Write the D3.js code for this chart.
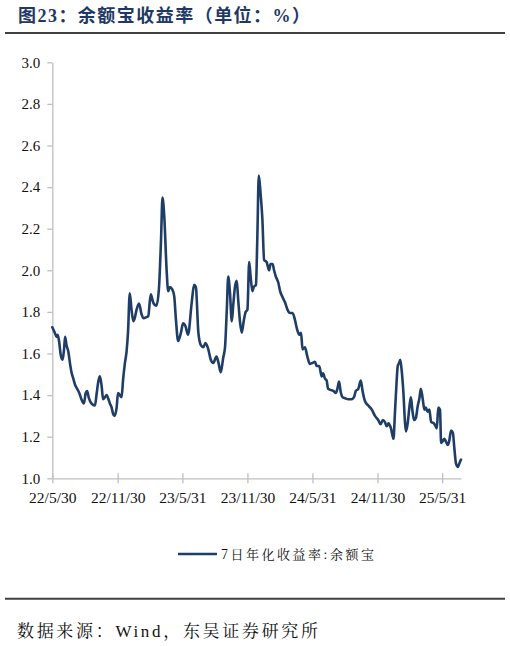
<!DOCTYPE html>
<html>
<head>
<meta charset="utf-8">
<script src="https://cdn.jsdelivr.net/npm/d3@7"></script>
<style>
  html, body { margin: 0; padding: 0; background: #ffffff; }
  svg { display: block; }
</style>
</head>
<body>
<svg id="chart" width="510" height="646"></svg>
<script>
// ---------------- DATA ----------------
const titleText = "图23：余额宝收益率（单位：%）";
const sourceText = "数据来源：Wind，东吴证券研究所";
const seriesName = "7日年化收益率:余额宝";

const yTicks = [1.0, 1.2, 1.4, 1.6, 1.8, 2.0, 2.2, 2.4, 2.6, 2.8, 3.0];
const xTickDates = ["2022-05-30", "2022-11-30", "2023-05-31", "2023-11-30", "2024-05-31", "2024-11-30", "2025-05-31"];
const xTickLabels = ["22/5/30", "22/11/30", "23/5/31", "23/11/30", "24/5/31", "24/11/30", "25/5/31"];
const xDomain = ["2022-05-30", "2025-07-23"];

const dates = [
"2022-05-30","2022-06-06","2022-06-11","2022-06-14","2022-06-18","2022-06-23","2022-06-28","2022-07-02","2022-07-05","2022-07-09",
"2022-07-14","2022-07-19","2022-07-23","2022-07-28","2022-08-02","2022-08-08","2022-08-14","2022-08-20","2022-08-27","2022-09-01",
"2022-09-05","2022-09-10","2022-09-17","2022-09-27","2022-10-02","2022-10-07","2022-10-11","2022-10-16","2022-10-20","2022-10-25",
"2022-10-30","2022-11-03","2022-11-08","2022-11-13","2022-11-17","2022-11-21","2022-11-27","2022-12-01","2022-12-06","2022-12-11",
"2022-12-15","2022-12-20","2022-12-25","2022-12-29","2023-01-03","2023-01-08","2023-01-13","2023-01-17","2023-01-22","2023-01-29",
"2023-02-05","2023-02-10","2023-02-19","2023-02-24","2023-03-03","2023-03-10","2023-03-19","2023-03-26","2023-04-01","2023-04-05",
"2023-04-10","2023-04-17","2023-04-21","2023-04-26","2023-05-02","2023-05-08","2023-05-13","2023-05-19","2023-05-27","2023-06-02",
"2023-06-09","2023-06-16","2023-06-26","2023-07-03","2023-07-08","2023-07-15","2023-07-22","2023-07-29","2023-08-04","2023-08-12",
"2023-08-19","2023-08-26","2023-09-04","2023-09-09","2023-09-16","2023-09-20","2023-09-23","2023-09-28","2023-10-03","2023-10-07",
"2023-10-12","2023-10-17","2023-10-21","2023-10-26","2023-10-31","2023-11-04","2023-11-09","2023-11-14","2023-11-20","2023-11-25",
"2023-11-30","2023-12-05","2023-12-09","2023-12-14","2023-12-18","2023-12-24","2023-12-28","2024-01-01","2024-01-06","2024-01-11",
"2024-01-16","2024-01-23","2024-01-30","2024-02-03","2024-02-09","2024-02-13","2024-02-18","2024-02-25","2024-03-01","2024-03-08",
"2024-03-15","2024-03-22","2024-03-29","2024-04-05","2024-04-12","2024-04-18","2024-04-24","2024-04-29","2024-05-03","2024-05-10",
"2024-05-16","2024-05-24","2024-06-01","2024-06-07","2024-06-12","2024-06-19","2024-06-26","2024-06-30","2024-07-05","2024-07-10",
"2024-07-14","2024-07-21","2024-07-29","2024-08-05","2024-08-09","2024-08-14","2024-08-18","2024-08-24","2024-08-31","2024-09-09",
"2024-09-18","2024-09-25","2024-09-30","2024-10-07","2024-10-14","2024-10-19","2024-10-26","2024-11-04","2024-11-14","2024-11-23",
"2024-12-02","2024-12-09","2024-12-15","2024-12-21","2024-12-26","2024-12-31","2025-01-02","2025-01-07","2025-01-14","2025-01-18",
"2025-01-23","2025-01-26","2025-01-30","2025-02-02","2025-02-06","2025-02-11","2025-02-15","2025-02-18","2025-02-23","2025-02-28",
"2025-03-04","2025-03-08","2025-03-13","2025-03-18","2025-03-23","2025-03-28","2025-04-01","2025-04-06","2025-04-11","2025-04-15",
"2025-04-20","2025-04-25","2025-04-30","2025-05-06","2025-05-11","2025-05-16","2025-05-20","2025-05-25","2025-05-28","2025-06-02",
"2025-06-06","2025-06-11","2025-06-16","2025-06-20","2025-06-25","2025-06-30","2025-07-04","2025-07-09","2025-07-14","2025-07-18",
"2025-07-23"
];

const values = [
1.726,1.70,1.68,1.69,1.66,1.59,1.57,1.62,1.68,1.64,
1.61,1.55,1.51,1.48,1.45,1.43,1.41,1.38,1.36,1.41,
1.42,1.385,1.36,1.35,1.41,1.47,1.49,1.44,1.38,1.39,
1.40,1.385,1.36,1.34,1.31,1.30,1.34,1.41,1.40,1.39,
1.47,1.55,1.61,1.70,1.89,1.81,1.755,1.77,1.81,1.84,
1.79,1.77,1.775,1.78,1.885,1.845,1.83,1.91,2.15,2.35,
2.26,1.99,1.90,1.92,1.91,1.876,1.76,1.66,1.70,1.745,
1.73,1.69,1.84,1.93,1.92,1.70,1.64,1.63,1.65,1.62,
1.57,1.555,1.585,1.56,1.51,1.545,1.58,1.63,1.81,1.97,
1.89,1.755,1.83,1.92,1.95,1.86,1.755,1.70,1.76,1.80,
1.81,2.04,1.97,1.90,1.92,1.93,2.165,2.455,2.37,2.25,
2.05,2.04,2.00,2.03,2.03,2.00,1.97,1.94,1.90,1.87,
1.845,1.81,1.795,1.795,1.76,1.715,1.69,1.70,1.62,1.63,
1.59,1.55,1.555,1.56,1.54,1.54,1.49,1.505,1.48,1.47,
1.43,1.425,1.42,1.41,1.43,1.465,1.42,1.39,1.385,1.38,
1.38,1.39,1.42,1.43,1.47,1.42,1.37,1.35,1.33,1.30,
1.28,1.26,1.28,1.27,1.25,1.265,1.26,1.24,1.19,1.31,
1.47,1.54,1.555,1.57,1.52,1.41,1.28,1.225,1.264,1.345,
1.39,1.33,1.28,1.29,1.345,1.385,1.43,1.385,1.33,1.34,
1.32,1.33,1.27,1.267,1.256,1.24,1.34,1.33,1.17,1.18,
1.19,1.175,1.16,1.18,1.23,1.22,1.15,1.07,1.055,1.07,
1.09
];

// ---------------- CHART ----------------
const parse = d3.timeParse("%Y-%m-%d");
const n = Math.min(dates.length, values.length);
const data = d3.range(n).map(i => ({ date: parse(dates[i]), value: values[i] }));

const svg = d3.select("#chart");
svg.append("rect").attr("width", 510).attr("height", 646).attr("fill", "#ffffff");

const plotLeft = 52.3, plotRight = 461, plotTop = 62.3, plotBottom = 478.3;

const x = d3.scaleTime().domain(xDomain.map(parse)).range([plotLeft, plotRight]);
const y = d3.scaleLinear().domain([1.0, 3.0]).range([plotBottom, plotTop]);

const axisColor = "#bfbfbf";

// Title
svg.append("text")
  .attr("x", 18).attr("y", 22)
  .style("font-family", "Liberation Serif, Noto Sans CJK SC")
  .style("font-weight", "bold")
  .style("font-size", "18px")
  .attr("fill", "#1f3864")
  .attr("textLength", 292)
  .attr("lengthAdjust", "spacing")
  .text(titleText);

svg.append("line")
  .attr("x1", 5).attr("x2", 505).attr("y1", 33).attr("y2", 33)
  .attr("stroke", "#404040").attr("stroke-width", 2);

// Y axis
const yAxis = d3.axisLeft(y)
  .tickValues(yTicks)
  .tickFormat(d3.format(".1f"))
  .tickSize(5)
  .tickSizeOuter(0)
  .tickPadding(7);

const gy = svg.append("g")
  .attr("transform", `translate(${plotLeft},0)`)
  .call(yAxis);
gy.attr("font-family", "Liberation Serif").attr("font-size", 15);
gy.select(".domain").attr("stroke", axisColor).attr("stroke-width", 1.3);
gy.selectAll(".tick line").attr("stroke", axisColor).attr("stroke-width", 1.3);
gy.selectAll(".tick text")
  .style("font-family", "Liberation Serif")
  .style("font-size", "15px")
  .attr("fill", "#111");

// X axis
const xAxis = d3.axisBottom(x)
  .tickValues(xTickDates.map(parse))
  .tickFormat((d, i) => xTickLabels[i])
  .tickSize(5)
  .tickSizeOuter(0);

const gx = svg.append("g")
  .attr("transform", `translate(0,${plotBottom})`)
  .call(xAxis);
gx.attr("font-family", "Liberation Serif").attr("font-size", 15);
gx.select(".domain").attr("stroke", axisColor).attr("stroke-width", 1.3);
gx.selectAll(".tick line")
  .attr("stroke", axisColor).attr("stroke-width", 1.3)
  .attr("y1", -5).attr("y2", 5);
gx.selectAll(".tick text")
  .style("font-family", "Liberation Serif")
  .style("font-size", "15.5px")
  .attr("fill", "#111")
  .attr("y", 25)
  .attr("dy", 0);

// Line
const lineColor = "#1f3d66";
const line = d3.line()
  .x(d => x(d.date))
  .y(d => y(d.value))
  .curve(d3.curveMonotoneX);

svg.append("path")
  .datum(data)
  .attr("fill", "none")
  .attr("stroke", lineColor)
  .attr("stroke-width", 2.6)
  .attr("stroke-linejoin", "round")
  .attr("stroke-linecap", "round")
  .attr("d", line);

// Legend
svg.append("line")
  .attr("x1", 178).attr("x2", 217).attr("y1", 554).attr("y2", 554)
  .attr("stroke", lineColor).attr("stroke-width", 2.6);
svg.append("text")
  .attr("x", 221).attr("y", 559)
  .style("font-family", "Noto Serif CJK SC, Noto Sans CJK SC")
  .style("font-size", "13px")
  .attr("fill", "#111")
  .attr("textLength", 153)
  .attr("lengthAdjust", "spacing")
  .text(seriesName);

// Footer
svg.append("line")
  .attr("x1", 5).attr("x2", 505).attr("y1", 598.7).attr("y2", 598.7)
  .attr("stroke", "#404040").attr("stroke-width", 2);
svg.append("text")
  .attr("x", 17).attr("y", 637)
  .style("font-family", "Liberation Serif, Noto Serif CJK SC, Noto Sans CJK SC")
  .style("font-size", "17px")
  .attr("fill", "#111")
  .attr("textLength", 301)
  .attr("lengthAdjust", "spacing")
  .text(sourceText);
</script>
</body>
</html>
